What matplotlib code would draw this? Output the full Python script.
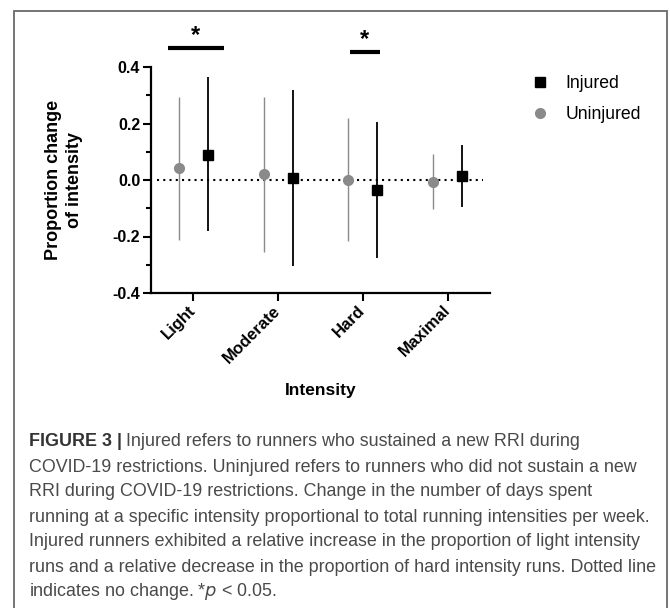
import numpy as np
import matplotlib
matplotlib.use("Agg")
import matplotlib.pyplot as plt
from matplotlib.patches import Rectangle
from matplotlib import font_manager

plt.rcParams['font.family'] = 'Liberation Sans'
plt.rcParams['axes.unicode_minus'] = False

# %% data
categories = ['Light', 'Moderate', 'Hard', 'Maximal']
injured_mean = [0.090, 0.008, -0.034, 0.014]
injured_low = [-0.182, -0.303, -0.275, -0.097]
injured_high = [0.363, 0.319, 0.205, 0.123]
uninjured_mean = [0.042, 0.021, 0.000, -0.006]
uninjured_low = [-0.211, -0.256, -0.217, -0.101]
uninjured_high = [0.295, 0.295, 0.219, 0.092]

# significance markers (category index, bar height)
sig_index = [0, 2]
sig_level = [0.467, 0.452]
sig_left = [0.30, 0.15]
sig_right = [0.36, 0.20]

caption_lines = [
    "Injured refers to runners who sustained a new RRI during",
    "COVID-19 restrictions. Uninjured refers to runners who did not sustain a new",
    "RRI during COVID-19 restrictions. Change in the number of days spent",
    "running at a specific intensity proportional to total running intensities per week.",
    "Injured runners exhibited a relative increase in the proportion of light intensity",
    "runs and a relative decrease in the proportion of hard intensity runs. Dotted line",
    r"indicates no change. *$p$ < 0.05.",
]

# %% plot
W, H = 670, 608
fig = plt.figure(figsize=(6.7, 6.08), dpi=100)
ax = fig.add_axes([151 / W, 1 - 293 / H, 339 / W, 226 / H])

x = np.arange(len(categories))
off = 0.17
grey = '#8a8a8a'

ax.vlines(x - off, uninjured_low, uninjured_high, color=grey, lw=1.0)
ax.vlines(x + off, injured_low, injured_high, color='black', lw=1.3)
ax.plot(x + off, injured_mean, 's', color='black', ms=7, label='Injured', zorder=3)
ax.plot(x - off, uninjured_mean, 'o', color=grey, ms=7, label='Uninjured', zorder=3)

ax.axhline(0, xmin=0.018, xmax=0.98, color='black', lw=1.5, ls=(0, (1, 2)), zorder=1)

for i, lev, l, r in zip(sig_index, sig_level, sig_left, sig_right):
    ax.plot([i - l, i + r], [lev, lev], color='black', lw=3, solid_capstyle='butt', clip_on=False)
    ax.text(i + (r - l) / 2, lev + 0.045, '*', ha='center', va='center',
            fontsize=17, fontweight='bold', clip_on=False)

ax.set_xlim(-0.5, 3.5)
ax.set_ylim(-0.4, 0.4)
ax.set_yticks([-0.4, -0.2, 0.0, 0.2, 0.4])
ax.set_yticklabels(['-0.4', '-0.2', '0.0', '0.2', '0.4'])
ax.set_yticks([-0.3, -0.1, 0.1, 0.3], minor=True)
ax.set_xticks(x)
ax.set_xticklabels(categories, rotation=45, ha='right', va='center', rotation_mode='anchor')

ax.spines['top'].set_visible(False)
ax.spines['right'].set_visible(False)
ax.spines['left'].set_linewidth(1.6)
ax.spines['bottom'].set_linewidth(1.6)
ax.tick_params(which='major', length=5.8, width=1.5, labelsize=11.5, pad=2)
ax.tick_params(which='minor', length=3.6, width=1.5)
ax.tick_params(axis='x', pad=5, labelsize=12)
for t in ax.get_xticklabels() + ax.get_yticklabels():
    t.set_fontweight('bold')

ax.set_ylabel('Proportion change\nof intensity', fontsize=13, fontweight='bold', linespacing=1.35)
ax.yaxis.set_label_coords(-0.2, 0.5)
ax.set_xlabel('Intensity', fontsize=12.5, fontweight='bold')
ax.xaxis.set_label_coords(0.5, -0.40)

ax.legend(loc='upper left', bbox_to_anchor=(531 / W, 1 - 75 / H), bbox_transform=fig.transFigure,
          frameon=False, fontsize=12.7, handlelength=1.0, handletextpad=0.95,
          labelspacing=0.78, borderpad=0, borderaxespad=0, markerscale=1.0)

# frame around the figure panel
fig.patches.append(Rectangle((14 / W, -0.02), (667 - 14) / W, (H - 10.7) / H + 0.02,
                             transform=fig.transFigure, fill=False, edgecolor='#6a6a6a',
                             lw=1.3, figure=fig))

# caption
cap_font = 'Liberation Sans Narrow'
try:
    font_manager.findfont(cap_font, fallback_to_default=False)
except Exception:
    cap_font = 'Liberation Sans'
cap_size = 13.5
fig.canvas.draw()
rend = fig.canvas.get_renderer()
probe = fig.text(0, 0, caption_lines[5], fontsize=cap_size, family=cap_font)
wpx = probe.get_window_extent(rend).width
probe.remove()
cap_size = cap_size * 624 / wpx

x0 = 29 / W
head = fig.text(x0, 1 - 442 / H, 'FIGURE 3 |', fontsize=cap_size, family=cap_font,
                fontweight='bold', color='#333333', va='center')
hw = head.get_window_extent(rend).width
for k, line in enumerate(caption_lines):
    xx = x0 + (hw + 4) / W if k == 0 else x0
    fig.text(xx, 1 - (442 + 25 * k) / H, line, fontsize=cap_size, family=cap_font,
             color='#4a4a4a', va='center')

fig.savefig('out.png', dpi=100)
